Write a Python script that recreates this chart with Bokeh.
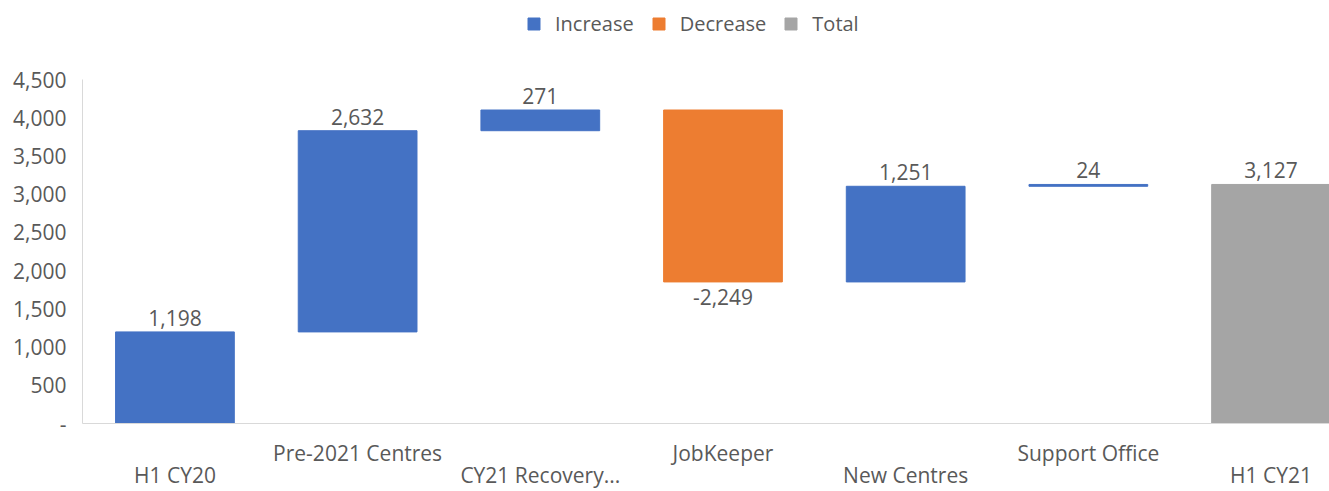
from bokeh.plotting import figure
from bokeh.models import ColumnDataSource, Range1d, FixedTicker, LinearAxis, Legend, LegendItem
from bokeh.layouts import column
from bokeh.core.properties import value
from bokeh.embed import file_html
from bokeh.resources import INLINE

categories = ["H1 CY20", "Pre-2021 Centres", "CY21 Recovery...", "JobKeeper",
              "New Centres", "Support Office", "H1 CY21"]
values = [1198, 2632, 271, -2249, 1251, 24, 3127]
kinds = ["Increase", "Increase", "Increase", "Decrease", "Increase", "Increase", "Total"]
legend_kinds = ["Increase", "Decrease", "Total"]
y_ticks = [0, 500, 1000, 1500, 2000, 2500, 3000, 3500, 4000, 4500]

colors = {"Increase": "#4472C4", "Decrease": "#ED7D31", "Total": "#A5A5A5"}
FONT = "Open Sans"
FS = "21px"
TXT = "#595959"

# waterfall computation
bottoms, tops = [], []
run = 0
for v, k in zip(values, kinds):
    if k == "Total":
        bottoms.append(0); tops.append(v); run = v
    else:
        b = run; run = run + v
        bottoms.append(min(b, run)); tops.append(max(b, run))

LEG_H = 48
p = figure(width=1329, height=491 - LEG_H, output_backend="svg", toolbar_location=None,
           x_range=Range1d(-0.506, 6.32), y_range=Range1d(0, 4500),
           min_border_left=82, min_border_right=0, min_border_top=79 - LEG_H, min_border_bottom=0)
p.outline_line_color = None
p.grid.visible = False
p.background_fill_color = "white"
p.border_fill_color = "white"

for kind in legend_kinds:
    idx = [i for i, k in enumerate(kinds) if k == kind]
    src = ColumnDataSource(dict(x=idx, top=[tops[i] for i in idx], bottom=[bottoms[i] for i in idx]))
    p.vbar(x="x", top="top", bottom="bottom", width=0.65, source=src,
           fill_color=colors[kind], line_color=colors[kind], line_width=1)

# value labels
up_x, up_y, up_t, dn_x, dn_y, dn_t = [], [], [], [], [], []
for i, (v, k) in enumerate(zip(values, kinds)):
    if v >= 0:
        up_x.append(i); up_y.append(tops[i]); up_t.append(f"{v:,}")
    else:
        dn_x.append(i); dn_y.append(bottoms[i]); dn_t.append(f"-{abs(v):,}")
p.text(x=up_x, y=up_y, text=up_t, text_align="center", text_baseline="bottom", y_offset=-6,
       text_font=value(FONT), text_font_size=FS, text_color=TXT)
p.text(x=dn_x, y=dn_y, text=dn_t, text_align="center", text_baseline="top", y_offset=7,
       text_font=value(FONT), text_font_size=FS, text_color=TXT)

def style_axis(ax, standoff):
    ax.major_tick_line_color = None
    ax.minor_tick_line_color = None
    ax.major_tick_out = 0
    ax.major_tick_in = 0
    ax.minor_tick_out = 0
    ax.minor_tick_in = 0
    ax.axis_label_standoff = 0
    ax.major_label_text_font = FONT
    ax.major_label_text_font_size = FS
    ax.major_label_text_color = TXT
    ax.major_label_standoff = standoff

# y axis
ya = p.yaxis[0]
ya.ticker = FixedTicker(ticks=y_ticks)
ya.major_label_overrides = {t: ("-" if t == 0 else f"{t:,}") for t in y_ticks}
style_axis(ya, 16)
ya.axis_line_color = "#D9D9D9"

# x axes: alternating label rows
xa = p.xaxis[0]
odd = [i for i in range(len(categories)) if i % 2 == 1]
even = [i for i in range(len(categories)) if i % 2 == 0]
xa.ticker = FixedTicker(ticks=odd)
xa.major_label_overrides = {i: categories[i] for i in odd}
style_axis(xa, 15)
xa.axis_line_color = "#D9D9D9"

xb = LinearAxis(ticker=FixedTicker(ticks=even),
                major_label_overrides={i: categories[i] for i in even})
style_axis(xb, -9)
xb.axis_line_color = None
p.add_layout(xb, "below")

# legend strip above the chart
lf = figure(width=1329, height=LEG_H, output_backend="svg", toolbar_location=None,
            x_axis_location=None, y_axis_location=None, min_border=0,
            x_range=Range1d(0, 1), y_range=Range1d(0, 1))
lf.outline_line_color = None
lf.grid.visible = False
items = []
for kind in legend_kinds:
    # hidden stand-in renderer (outside the strip's range) so the legend can draw its swatch
    r = lf.vbar(x=[-5], top=[-5], bottom=[-6], width=0.5, fill_color=colors[kind], line_color=colors[kind])
    items.append(LegendItem(label=kind, renderers=[r]))
leg = Legend(items=items, orientation="horizontal", location=(444, 11))
leg.border_line_color = None
leg.background_fill_alpha = 0
leg.label_text_font = FONT
leg.label_text_font_size = "20px"
leg.label_text_color = TXT
leg.glyph_width = 15
leg.glyph_height = 15
leg.label_standoff = 14
leg.spacing = 17
leg.margin = 0
leg.padding = 0
lf.add_layout(leg, "center")

layout = column(lf, p, spacing=0)
open("out.html", "w").write(file_html(layout, INLINE))
